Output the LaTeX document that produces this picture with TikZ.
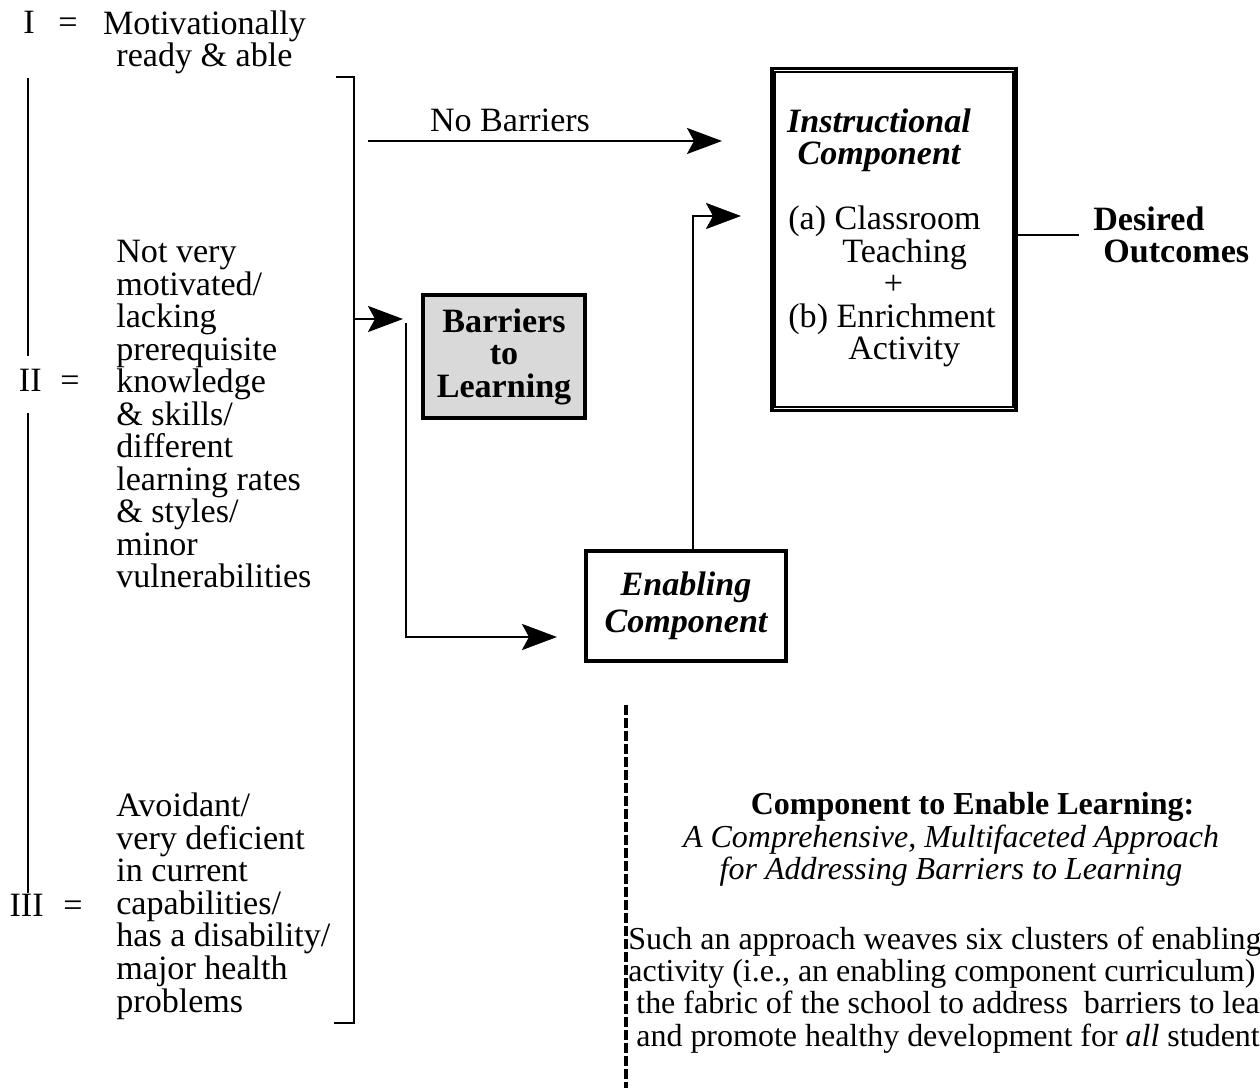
\documentclass[tikz,border=0pt]{standalone}
\usepackage{fontspec}
\setmainfont{Liberation Serif}
\usetikzlibrary{arrows.meta}
\tikzset{
  txt/.style={inner sep=0pt, font=\fontsize{19.4}{18.5}\selectfont},
  bodytxt/.style={inner sep=0pt, font=\fontsize{18.2}{18.4}\selectfont},
  compbox/.style={draw, line width=2pt, inner sep=0pt},
  conn/.style={line width=1.6pt},
  arr/.style={conn, -{Stealth[length=0.7cm, width=0.52cm, inset=0.14cm]}},
}

\begin{document}
\begin{tikzpicture}
		\useasboundingbox (0,0) rectangle (25.2,21.76);
		% student groups
		\node[txt, anchor=base east] (gI) at (0.70,21.08) {I};
		\node[txt, anchor=base west] (eqI) at (1.16,21.08) {=};
		\node[txt, anchor=base, align=center] (descI) at (4.09,20.42) {Motivationally\\ready \& able};
		\node[txt, anchor=base east] (gII) at (0.84,13.92) {II};
		\node[txt, anchor=base west] (eqII) at (1.20,13.92) {=};
		\node[txt, anchor=base west, align=left] (descII) at (2.32,10.0) {Not very\\motivated/\\lacking\\prerequisite\\knowledge\\\& skills/\\different\\learning rates\\\& styles/\\minor\\vulnerabilities};
		\node[txt, anchor=base east] (gIII) at (0.88,3.44) {III};
		\node[txt, anchor=base west] (eqIII) at (1.26,3.44) {=};
		\node[txt, anchor=base west, align=left] (descIII) at (2.32,1.52) {Avoidant/\\very deficient\\in current\\capabilities/\\has a disability/\\major health\\problems};
		\draw [conn] (0.56,20.2) -- (0.56,14.64) (0.56,13.5) -- (0.56,3.9);
		% bracket
		\coordinate (brtop) at (7.08,20.22);
		\coordinate (brbot) at (7.08,1.3);
		\coordinate (brmid) at (7.08,15.38);
		\draw [conn] ([xshift=-0.36cm]brtop) -- (brtop) -- (brbot) -- ([xshift=-0.4cm]brbot);
		% components
		\node[compbox, fill=black!15, minimum width=3.24cm, minimum height=2.46cm, align=center, font=\fontsize{19.4}{18.5}\selectfont\bfseries] (barr) at (10.08,14.63) {Barriers\\to\\Learning};
		\node[compbox, minimum width=4cm, minimum height=2.2cm, align=center, font=\fontsize{19.4}{21.3}\selectfont\bfseries\itshape] (enab) at (13.72,9.64) {Enabling\\Component};
		\node[draw, line width=2.2pt, minimum width=4.88cm, minimum height=6.84cm] (instr) at (17.88,16.97) {};
		\draw [line width=1.1pt] ([shift={(0.1,-0.1)}]instr.north west) rectangle ([shift={(-0.1,0.1)}]instr.south east);
		\node[txt, anchor=base, align=center, font=\fontsize{19.4}{18.5}\selectfont\bfseries\itshape] (instrttl) at (17.58,18.46) {Instructional\\Component};
		\node[txt, anchor=base west, align=left] (instrtxt) at (15.76,14.56) {(a) Classroom\\\hspace*{1.08cm}Teaching\\\hspace*{1.91cm}+\\(b) Enrichment\\\hspace*{1.2cm}Activity};
		\node[txt, anchor=base west, align=left, font=\fontsize{19.4}{18.5}\selectfont\bfseries] (outc) at (21.86,16.5) {Desired\\\hspace*{0.2cm}Outcomes};
		% connectors
		\coordinate (nbstart) at (7.36,18.94);
		\coordinate (nbend) at (14.44,18.94);
		\draw [arr, line width=1.3pt] (nbstart) -- (nbend);
		\node[txt, anchor=base] (nobarr) at (10.2,19.12) {No Barriers};
		\draw [arr] (brmid) -- (8.06,15.38);
		\coordinate (enabin) at (11.14,9.02);
		\draw [arr] (8.12,15.3) -- (8.12,9.02) -- (enabin);
		\coordinate (instrin) at (14.82,17.44);
		\draw [arr] ([xshift=0.14cm]enab.north) -- (13.86,17.44) -- (instrin);
		\draw [conn] ([yshift=0.09cm]instr.east) -- ++(1.22,0);
		% enabling component notes
		\draw [line width=2pt, dash pattern=on 0.2cm off 0.06cm] (12.52,7.66) -- (12.52,0);
		\node[bodytxt, anchor=base, font=\fontsize{18.2}{18.4}\selectfont\bfseries] (celttl) at (19.45,5.46) {Component to Enable Learning:};
		\node[bodytxt, anchor=base, align=center, font=\fontsize{18.2}{18.4}\selectfont\itshape] (celsub) at (19.02,4.16) {A Comprehensive, Multifaceted Approach\\for Addressing Barriers to Learning};
		\node[bodytxt, anchor=base west, align=left] (celbody) at (12.56,0.84) {Such an approach weaves six clusters of enabling\\activity (i.e., an enabling component curriculum)\\\hspace*{0.16cm}the fabric of the school to address\ \ barriers to lea\\\hspace*{0.16cm}and promote healthy development for \textit{all} student};
\end{tikzpicture}
\end{document}
